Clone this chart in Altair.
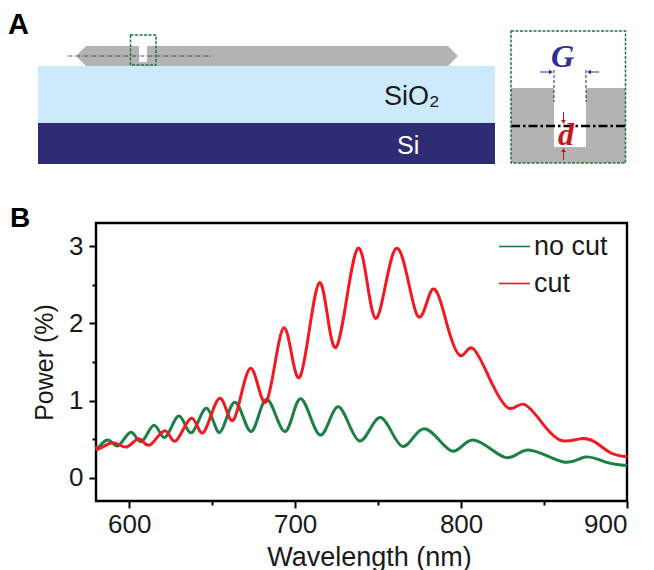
import altair as alt
import pandas as pd

# Spectra (wavelength nm, power %)
no_cut_x = [580, 587.4, 593.5, 601, 607.5, 615, 621.8, 630, 637.7, 646.7, 654.7, 663.8, 673.6, 682.9, 693.9,
            703.4, 715, 726, 738.5, 751.2, 764.3, 777.7, 794, 807.4, 826.5, 840.6, 861.7,
            874.8, 887.8, 900]
no_cut_y = [0.35, 0.49, 0.416, 0.59, 0.47, 0.68, 0.525, 0.80, 0.585, 0.90, 0.59, 0.98, 0.60, 1.017, 0.60,
            1.025, 0.555, 0.92, 0.48, 0.78, 0.41, 0.635, 0.35, 0.49, 0.265, 0.36, 0.205,
            0.27, 0.20, 0.16]
cut_x = [580, 582.4, 590.4, 598.5, 606, 612.5, 621.6, 628.2, 637.7, 645, 654.7, 663.1, 673.2, 682.9, 693.3,
         703, 714.6, 724.7, 737.7, 748.4, 760.8, 773.3, 782.7, 792, 800, 807, 818, 829, 838, 850, 861, 872,
         881, 890, 900]
cut_y = [0.415, 0.38, 0.455, 0.40, 0.505, 0.425, 0.61, 0.48, 0.77, 0.59, 1.03, 0.757, 1.42, 0.995, 1.945,
         1.31, 2.527, 1.69, 2.97, 2.066, 2.97, 2.117, 2.44, 1.95, 1.58, 1.677, 1.25, 0.90,
         0.952, 0.68, 0.48, 0.507, 0.46, 0.325, 0.273]
series_names = ["no cut", "cut"]
series_colors = ["#1b8045", "#f01a22"]
x_major = [600, 700, 800, 900]
x_minor = [650, 750, 850]
y_major = [0, 1, 2, 3]
y_minor = [0.5, 1.5, 2.5]

FONT = "Liberation Sans"
INK = "#1a1a1a"

# Panel A schematic, in a picture-like coordinate system
rects = [
    {"x": 38, "x2": 495, "y": 66, "y2": 123, "c": "#cceafb"},
    {"x": 38, "x2": 495, "y": 123, "y2": 164, "c": "#2e2c72"},
    {"x": 139, "x2": 147, "y": 46, "y2": 62, "c": "#ffffff"},
]
inset_rects = [
    {"x": 511, "x2": 625.5, "y": 88, "y2": 163, "c": "#b3b3b3"},
    {"x": 554, "x2": 586, "y": 88, "y2": 147, "c": "#ffffff"},
]
guide_x = [76, 86, 448, 458]
guide_top = [56, 46, 46, 56]
guide_bottom = [56, 66, 66, 56]
dashed_boxes = [
    {"x": 130.5, "x2": 156, "y": 35, "y2": 65},
    {"x": 511, "x2": 625.5, "y": 31, "y2": 163},
]

sx = alt.Scale(domain=[96, 627], nice=False, zero=False)
X = lambda f: alt.X(f, type="quantitative", scale=sx, axis=None)
Y = lambda f: alt.Y(f, type="quantitative", scale=alt.Scale(domain=[223, 8], nice=False, zero=False), axis=None)
X2 = lambda f: alt.X2(f)
Y2 = lambda f: alt.Y2(f)


def rect_layer(rows):
    return alt.Chart(pd.DataFrame(rows)).mark_rect(strokeWidth=0).encode(
        x=X("x"), x2=X2("x2"), y=Y("y"), y2=Y2("y2"),
        color=alt.Color("c:N", scale=None))


def hline(rows, **style):
    return alt.Chart(pd.DataFrame(rows)).mark_rule(**style).encode(x=X("x"), x2=X2("x2"), y=Y("y"))


def vline(rows, **style):
    return alt.Chart(pd.DataFrame(rows)).mark_rule(**style).encode(x=X("x"), y=Y("y"), y2=Y2("y2"))


def label(rows, **style):
    return alt.Chart(pd.DataFrame(rows)).mark_text(**style).encode(x=X("x"), y=Y("y"), text="t:N")


def arrow(rows, shape, color):
    return alt.Chart(pd.DataFrame(rows)).mark_point(shape=shape, filled=True, size=22, color=color, opacity=1).encode(
        x=X("x"), y=Y("y"))


BLUE = "#2e3192"
RED = "#c4161c"
DGREEN = "#1c7a43"

page = alt.Chart(pd.DataFrame([{"x": 8, "x2": 646, "y": 8, "y2": 562}])).mark_rect(opacity=0).encode(
    x=X("x"), x2=X2("x2"), y=Y("y"), y2=Y2("y2"))

guide = alt.Chart(pd.DataFrame({"x": guide_x, "y": guide_top, "y2": guide_bottom})).mark_area(
    color="#b3b3b3", opacity=1).encode(x=X("x"), y=Y("y"), y2=Y2("y2"))

boxes = alt.Chart(pd.DataFrame(dashed_boxes)).mark_rect(
    fillOpacity=0, stroke=DGREEN, strokeWidth=1.5, strokeDash=[3, 1.5]).encode(
    x=X("x"), x2=X2("x2"), y=Y("y"), y2=Y2("y2"))

panel_a = alt.layer(
    page,
    guide,
    rect_layer(rects),
    rect_layer(inset_rects),
    hline([{"x": 68, "x2": 212, "y": 56}], color="#333333", strokeWidth=0.8, strokeDash=[4, 1.5, 1, 1.5]),
    hline([{"x": 511, "x2": 625.5, "y": 126}], color="#000000", strokeWidth=2.4, strokeDash=[9, 3, 2.5, 3]),
    vline([{"x": 554, "y": 70, "y2": 102}, {"x": 586, "y": 70, "y2": 102}],
          color="#333333", strokeWidth=1, strokeDash=[3, 2]),
    hline([{"x": 540, "x2": 551, "y": 72}, {"x": 589, "x2": 599, "y": 72}], color=BLUE, strokeWidth=1),
    arrow([{"x": 551, "y": 72}], "triangle-right", BLUE),
    arrow([{"x": 589, "y": 72}], "triangle-left", BLUE),
    vline([{"x": 563.5, "y": 112, "y2": 122}, {"x": 563.5, "y": 150, "y2": 160}], color=RED, strokeWidth=1),
    arrow([{"x": 563.5, "y": 122}], "triangle-down", RED),
    arrow([{"x": 563.5, "y": 150}], "triangle-up", RED),
    boxes,
    label([{"x": 8, "y": 34, "t": "A"}], font=FONT, fontSize=29, fontWeight="bold", align="left",
          baseline="alphabetic", color="#000000"),
    label([{"x": 10, "y": 227, "t": "B"}], font=FONT, fontSize=28, fontWeight="bold", align="left",
          baseline="alphabetic", color="#000000"),
    label([{"x": 384, "y": 105, "t": "SiO₂"}], font=FONT, fontSize=27, align="left",
          baseline="alphabetic", color=INK),
    label([{"x": 397, "y": 154, "t": "Si"}], font=FONT, fontSize=25, align="left",
          baseline="alphabetic", color="#ffffff"),
    label([{"x": 562.5, "y": 67, "t": "G"}], font="Liberation Serif", fontSize=32, fontWeight="bold",
          fontStyle="italic", align="center", baseline="alphabetic", color=BLUE),
    label([{"x": 566, "y": 145, "t": "d"}], font="Liberation Serif", fontSize=32, fontWeight="bold",
          fontStyle="italic", align="center", baseline="alphabetic", color=RED),
).properties(width=531, height=215, view=alt.ViewBackground(stroke=None))

# Panel B
rows = ([{"w": a, "p": b, "s": "no cut", "o": 0} for a, b in zip(no_cut_x, no_cut_y)]
        + [{"w": a, "p": b, "s": "cut", "o": 1} for a, b in zip(cut_x, cut_y)])
df = pd.DataFrame(rows)

bx = alt.Scale(domain=[580, 900], nice=False, zero=False)
by = alt.Scale(domain=[-0.3, 3.3], nice=False, zero=False)
AX = dict(domain=False, grid=False, tickColor="#000000", tickWidth=2, labelFont=FONT, labelFontSize=26,
          labelColor=INK, titleFont=FONT, titleFontWeight="normal", titleColor=INK)

curves = alt.Chart(df).mark_line(strokeWidth=3, interpolate="natural").encode(
    x=alt.X("w:Q", scale=bx, axis=alt.Axis(values=x_major, tickSize=7, labelPadding=3, format="d",
                                           title="Wavelength (nm)", titleFontSize=27, titlePadding=7, titleX=273,
                                           **AX)),
    y=alt.Y("p:Q", scale=by, axis=alt.Axis(values=y_major, tickSize=7, labelPadding=6, format="d",
                                           title="Power (%)", titleFontSize=25, titlePadding=11, **AX)),
    color=alt.Color("s:N", scale=alt.Scale(domain=series_names, range=series_colors),
                    legend=alt.Legend(title=None, orient="none", legendX=402, legendY=222, symbolType="stroke",
                                      symbolSize=961, symbolStrokeWidth=1.6, labelFont=FONT, labelFontSize=27,
                                      labelColor=INK, labelOffset=3, rowPadding=7, padding=0)),
    order="o:Q",
)
minor = alt.Chart(df).mark_line(opacity=0).encode(
    x=alt.X("w:Q", scale=bx, axis=alt.Axis(orient="bottom", values=x_minor, tickSize=4, labels=False, title=None,
                                           domain=False, grid=False, tickColor="#000000", tickWidth=2)),
    y=alt.Y("p:Q", scale=by, axis=alt.Axis(orient="left", values=y_minor, tickSize=4, labels=False, title=None,
                                           domain=False, grid=False, tickColor="#000000", tickWidth=2)),
)

panel_b = alt.layer(curves, minor).resolve_axis(x="independent", y="independent").properties(
    width=531, height=278, view=alt.ViewBackground(stroke="#000000", strokeWidth=2.4))

chart = alt.vconcat(panel_a, panel_b, spacing=0, bounds="flush", padding=0).configure_concat(spacing=0)

chart.save("out.html", embed_options={"renderer": "svg", "actions": False})
